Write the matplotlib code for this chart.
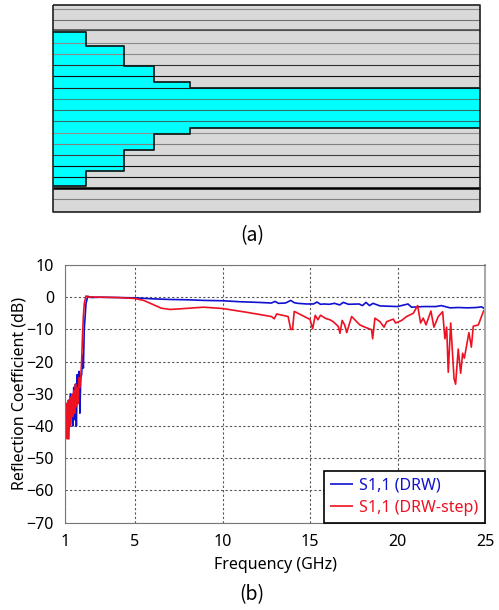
import matplotlib
matplotlib.use("Agg")
import matplotlib.pyplot as plt

W, H = 499, 610

plt.rcParams["font.family"] = ["Noto Sans", "DejaVu Sans"]
plt.rcParams["lines.solid_capstyle"] = "butt"

# panel (a) layer boundaries, pixel rows of the picture
layer_y = [9, 20, 30, 43, 54, 65, 76, 88, 99, 110, 121, 133, 144, 155, 166, 177, 188, 199]
layer_shade = ["#8c8c8c", "#707070", "#505050", "#8c8c8c", "#8c8c8c", "#303030", "#101010", "#202020",
               "#3c8c8c", "#307070", "#307070", "#909090", "#808080", "#404040", "#101010", "#101010",
               "#000000", "#808080"]
top_x = [53, 86, 86, 124, 124, 154, 154, 190, 190, 480]
top_y = [32, 32, 46, 46, 66, 66, 82, 82, 88, 88]
bot_x = [480, 190, 190, 154, 154, 124, 124, 86, 86, 53]
bot_y = [128, 128, 134, 134, 150, 150, 171, 171, 186, 186]

# panel (b) traces
blue_f = [1.0, 1.05, 1.1, 1.15, 1.2, 1.25, 1.3, 1.4, 1.45, 1.5, 1.55, 1.6, 1.65, 1.7, 1.75, 1.8, 1.85, 1.9, 1.95,
          2.0, 2.05, 2.1, 2.2, 2.3, 2.5, 3, 4, 5, 6, 7, 8, 9, 10, 11, 12, 12.8, 13, 13.2, 13.6, 13.9, 14.1, 14.3,
          14.8, 15.2, 15.4, 15.6, 15.8, 16.1, 16.4, 16.7, 16.9, 17.2, 17.8, 18.0, 18.2, 18.4, 18.6, 19, 19.5, 20,
          20.6, 20.8, 21.5, 22.2, 22.5, 23, 23.5, 24, 24.5, 24.8, 25]
blue_v = [-36, -40, -33, -38, -32, -37, -30, -36, -40, -28, -38, -27, -40, -24, -31, -23, -36, -25, -24,
          -18, -22, -10, -2, 0.3, -0.1, 0, -0.1, -0.2, -0.5, -0.7, -0.8, -1.0, -1.1, -1.4, -1.6, -1.8, -1.3,
          -1.9, -1.8, -1.0, -1.7, -1.9, -2.1, -2.1, -1.5, -2.2, -2.1, -2.2, -1.9, -2.4, -1.6, -2.2, -2.1, -2.6,
          -1.6, -2.6, -1.9, -2.7, -2.8, -2.9, -2.1, -3.1, -2.9, -2.9, -2.6, -3.3, -3.2, -3.3, -3.2, -3.0, -3.6]
red_f = [1.0, 1.04, 1.08, 1.12, 1.18, 1.22, 1.28, 1.33, 1.4, 1.45, 1.5, 1.55, 1.6, 1.65, 1.7, 1.75, 1.8, 1.85, 1.9,
         1.95, 2.0, 2.05, 2.1, 2.2, 2.3, 2.5, 3, 4, 5, 5.5, 6, 6.5, 7, 7.6, 8.9, 10, 11.4, 12.8, 12.95, 13.1, 13.75,
         13.9, 14.0, 14.1, 15.0, 15.15, 15.3, 15.45, 15.6, 15.9, 16.14, 16.33, 16.62, 16.71, 16.84, 16.98, 17.1,
         17.38, 17.85, 18.14, 18.52, 18.58, 18.71, 19.0, 19.23, 19.38, 19.76, 19.89, 20.24, 20.52, 20.9, 21.15,
         21.32, 21.47, 21.63, 21.91, 22.08, 22.33, 22.58, 22.71, 22.81, 22.9, 23.04, 23.23, 23.32, 23.47, 23.61,
         23.72, 23.82, 24.08, 24.22, 24.33, 24.62, 24.9, 25.0]
red_v = [-44, -36, -33, -44, -32, -44, -31, -40, -30, -37, -29, -36, -27, -34, -28, -33, -25, -28, -25,
         -20, -12, -6, -2, 0.4, 0, 0.1, 0, -0.1, -0.4, -1.0, -2.2, -3.4, -3.8, -3.6, -3.1, -3.5, -4.7, -6.0, -6.7, -5.2, -6.0,
         -10, -10, -4.4, -6.9, -9.8, -5.6, -7.0, -5.6, -6.6, -7.0, -7.6, -9.1, -11.2, -7.2, -8.6, -11, -6, -8.6,
         -9.3, -10.1, -12.9, -6.5, -7.6, -9.3, -7.6, -6.8, -8, -7.2, -6.0, -5, -2.6, -8, -6.5, -8.6, -4.3, -9.3,
         -6.0, -4.5, -12.9, -9.3, -23.3, -8.0, -25.2, -27, -16.1, -23.6, -17.4, -18.9, -11, -15.5, -9.0, -8.6, -4.5, -3.7]
x_ticks = [1, 5, 10, 15, 20, 25]
y_ticks = [10, 0, -10, -20, -30, -40, -50, -60, -70]

fig = plt.figure(figsize=(W / 100, H / 100), dpi=100)

# panel (a), drawn in picture pixels
ax_a = fig.add_axes([0, 0, 1, 1])
ax_a.set_xlim(0, W)
ax_a.set_ylim(H, 0)
ax_a.axis("off")
ax_a.fill([53, 480, 480, 53], [5, 5, 212, 212], color="#d9d9d9", lw=0, zorder=1)
ax_a.fill(top_x + bot_x, top_y + bot_y, color="#00ffff", lw=0, zorder=2)
for y, shade in zip(layer_y, layer_shade):
    ax_a.plot([53, 480], [y, y], color=shade, lw=0.8, zorder=3)
ax_a.plot(top_x, top_y, color="#102020", lw=1.3, zorder=4)
ax_a.plot(bot_x, bot_y, color="#102020", lw=1.3, zorder=4)
ax_a.plot([53, 480], [30, 30], color="#505050", lw=1.2, zorder=4)
ax_a.plot([53, 480], [188, 188], color="black", lw=1.8, zorder=4)
ax_a.plot([53, 53, 480, 480, 53], [5, 212, 212, 5, 5], color="#202020", lw=1.2, zorder=5)
ax_a.text(252, 236, "(a)", ha="center", va="center", fontsize=14, family="Noto Sans CJK KR", fontweight="light")
ax_a.text(252, 595, "(b)", ha="center", va="center", fontsize=14, family="Noto Sans CJK KR", fontweight="light")

# panel (b)
ax = fig.add_axes([65 / W, 1 - 522.7 / H, 420 / W, 257.7 / H])
ax.plot(blue_f, blue_v, color="#1010d0", lw=1.2, label="S1,1 (DRW)")
ax.plot(red_f, red_v, color="#ee1122", lw=1.2, label="S1,1 (DRW-step)")
ax.set_xlim(1, 25)
ax.set_ylim(-70, 10)
ax.set_xticks(x_ticks)
ax.set_yticks(y_ticks)
ax.grid(True, color="#555555", linestyle=(0, (2, 2)), lw=0.8)
ax.set_axisbelow(True)
ax.tick_params(length=0, labelsize=11.5, pad=8)
for side in ax.spines:
    ax.spines[side].set_color("#777777")
ax.spines["right"].set_color("#aaaaaa")
ax.spines["right"].set_linewidth(1.5)
ax.set_xlabel("Frequency (GHz)", fontsize=11.5, labelpad=5)
ax.set_ylabel("Reflection Coefficient (dB)", fontsize=11.5, labelpad=-1)
leg = ax.legend(loc="lower right", fontsize=11.5, frameon=True, fancybox=False, edgecolor="black", framealpha=1,
                borderaxespad=0, handlelength=1.4, handletextpad=0.4, labelspacing=0.4, borderpad=0.42,
                labelcolor="linecolor")
leg.get_frame().set_linewidth(1.2)

fig.savefig("out.png", dpi=100)
